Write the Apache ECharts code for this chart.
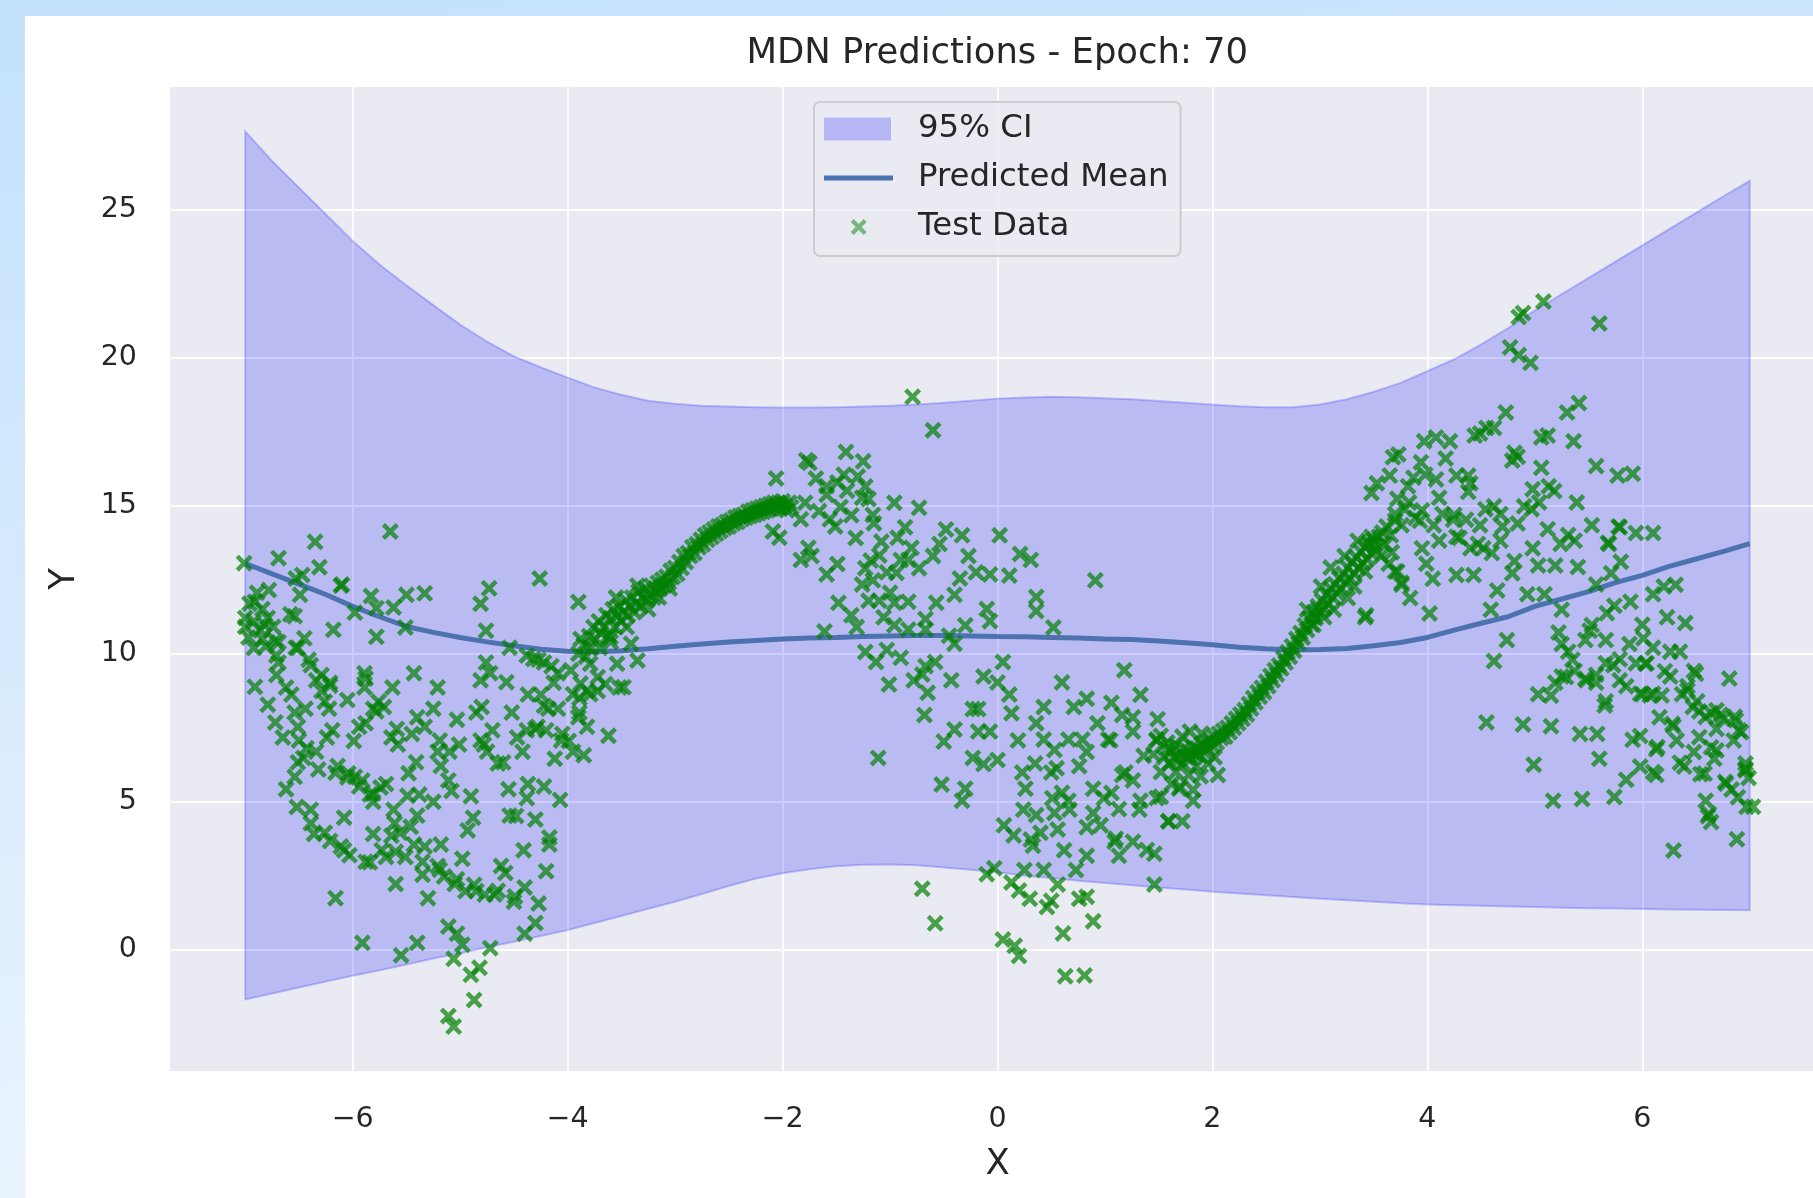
<!DOCTYPE html>
<html>
<head>
<meta charset="utf-8">
<title>MDN Predictions - Epoch: 70</title>
<script src="https://cdn.jsdelivr.net/npm/echarts@6/dist/echarts.min.js"></script>
<style>
  html, body { margin: 0; padding: 0; width: 1813px; height: 1198px; overflow: hidden;
    background: linear-gradient(172deg, #c3e1fc 0%, #d2e8fd 35%, #e4f1fe 70%, #eef6fe 100%); }
  #card { position: absolute; left: 25px; top: 16px; width: 1788px; height: 1182px; background: #ffffff; }
  #chart { width: 100%; height: 100%; }
</style>
</head>
<body>
<div id="card"><div id="chart"></div></div>
<script>
// ---- sample grid for the predicted mean and the 95% interval ----
const sampleX = [-7,-6.75,-6.5,-6.25,-6,-5.75,-5.5,-5.25,-5,-4.75,-4.5,-4.25,-4,-3.75,-3.5,-3.25,-3,-2.75,-2.5,-2.25,-2,-1.75,-1.5,-1.25,-1,-0.75,-0.5,-0.25,0,0.25,0.5,0.75,1,1.25,1.5,1.75,2,2.25,2.5,2.75,3,3.25,3.5,3.75,4,4.25,4.5,4.75,5,5.25,5.5,5.75,6,6.25,6.5,6.75,7];

const ciUpper = [27.65,26.65,25.75,24.85,23.95,23.15,22.45,21.78,21.12,20.55,20.05,19.68,19.33,19.0,18.75,18.55,18.45,18.38,18.35,18.33,18.32,18.32,18.33,18.35,18.38,18.42,18.48,18.55,18.62,18.66,18.68,18.67,18.63,18.6,18.54,18.48,18.42,18.36,18.33,18.33,18.42,18.6,18.85,19.15,19.55,19.95,20.45,21.0,21.6,22.15,22.7,23.25,23.8,24.35,24.9,25.45,25.98];

const ciLower = [-1.68,-1.48,-1.28,-1.08,-0.88,-0.7,-0.5,-0.3,-0.12,0.08,0.27,0.46,0.66,0.9,1.14,1.38,1.62,1.88,2.15,2.4,2.58,2.72,2.82,2.87,2.88,2.85,2.78,2.7,2.62,2.5,2.42,2.33,2.25,2.18,2.1,2.03,1.96,1.9,1.84,1.78,1.72,1.67,1.62,1.57,1.53,1.5,1.48,1.46,1.44,1.42,1.4,1.39,1.37,1.36,1.35,1.34,1.33];

const meanY = [13.05,12.7,12.35,12.0,11.6,11.25,10.92,10.72,10.55,10.4,10.27,10.15,10.08,10.07,10.1,10.17,10.25,10.33,10.4,10.45,10.5,10.53,10.55,10.58,10.6,10.62,10.62,10.6,10.58,10.57,10.55,10.53,10.5,10.48,10.43,10.37,10.3,10.22,10.17,10.13,10.14,10.18,10.27,10.38,10.55,10.8,11.03,11.25,11.6,11.85,12.1,12.4,12.65,12.95,13.2,13.45,13.72];

// ---- test data, grouped by region along X ----
const testLeft = [
[-7.01,13.06],[-6.69,13.23],[-6.35,13.78],[-5.65,14.13],[-6.31,12.92],[-6.47,12.66],[-6.11,12.30],[-6.49,11.99],[-5.50,11.99],[-5.33,12.04],[-4.73,12.21],[-4.81,11.69],[-4.26,12.54],[-3.90,11.75],
[-6.89,12.06],[-6.96,11.69],[-6.84,11.51],[-7.0,11.21],[-6.92,11.09],[-6.79,11.21],[-7.0,10.91],[-6.86,10.79],[-6.74,10.91],[-6.97,10.55],[-6.84,10.49],[-6.72,10.43],[-6.92,10.19],[-6.81,10.25],[-6.71,9.94],
[-6.58,11.33],[-6.54,11.27],[-6.18,10.81],[-5.98,11.39],[-5.78,11.54],[-5.78,10.57],[-5.51,10.89],[-6.45,10.52],[-6.51,10.19],[-6.41,9.80],[-6.69,9.70],[-6.71,9.28],[-6.62,8.86],[-6.57,8.62],[-6.91,8.88],[-6.79,8.28],[-6.72,7.68],[-6.65,7.17],[-6.51,7.53],[-6.54,8.01],[-6.44,8.14],[-6.34,9.10],[-6.29,8.74],[-6.26,8.38],[-6.21,8.92],[-6.22,8.14],[-6.29,9.28],[-6.19,7.41],[-6.24,7.17],[-6.34,6.69],[-6.43,6.81],[-6.51,6.33],[-6.54,5.84],[-6.62,5.42],[-6.52,4.82],[-6.39,4.27],[-6.36,3.91],[-6.21,3.67],[-6.11,3.49],[-6.03,3.19],[-6.08,4.46],[-5.81,3.91],[-5.84,2.95],[-5.69,3.13],[-5.60,3.31],[-5.51,3.13],[-5.43,3.55],[-5.33,3.49],[-5.61,4.27],[-5.46,4.15],[-5.64,3.85],[-5.60,2.22],[-6.16,1.74],[-5.91,0.23],[-5.55,-0.19],[-5.40,0.23],[-5.35,2.53],[-5.30,1.74],[-5.18,3.55],[-5.21,2.83],[-5.15,2.47],[-5.05,2.22],[-4.98,3.07],[-4.95,1.98],[-4.85,1.98],[-4.77,1.86],[-4.68,1.86],[-4.62,2.83],[-4.58,2.59],[-4.50,1.62],[-4.40,2.10],[-4.27,1.56],[-4.20,2.65],[-4.17,3.55],[-4.17,3.79],[-4.30,4.40],[-4.37,5.60],[-4.48,4.52],[-4.55,5.42],[-4.60,6.33],[-4.07,5.06],[-4.90,5.18],[-4.88,4.46],[-4.93,4.03],[-5.08,5.36],[-5.11,5.72],[-5.18,6.21],[-5.21,6.69],[-5.25,5.00],[-5.38,5.24],[-5.48,5.96],[-5.41,6.33],[-5.33,7.53],[-5.45,7.29],[-5.58,6.93],[-5.64,7.17],[-5.74,5.48],[-5.81,5.00],[-5.69,5.60],[-5.91,5.72],[-6.04,5.96],[-6.14,6.21],[-5.98,5.84],[-5.84,5.24],[-5.99,7.05],[-5.94,7.53],[-5.88,7.65],[-5.81,8.14],[-5.76,8.38],[-5.71,8.20],[-5.89,8.86],[-5.88,9.16],[-5.89,9.34],[-5.63,8.86],[-5.43,9.34],[-5.21,8.86],[-5.25,8.14],[-5.01,6.93],[-5.10,6.69],[-4.78,6.93],[-4.70,7.41],[-4.75,6.69],[-4.85,8.01],[-4.80,8.20],[-4.81,9.10],[-4.76,9.70],[-4.72,9.34],[-4.57,9.04],[-4.52,8.01],[-4.47,7.17],[-4.42,6.69],[-4.38,7.41],[-4.28,7.53],[-4.20,7.41],[-4.37,8.62],[-4.25,8.62],[-4.18,8.14],[-4.09,8.14],[-4.05,7.29],[-3.99,7.05],[-3.95,6.69],[-3.85,6.57],[-4.12,6.45],[-3.82,7.53],[-3.62,7.23],[-3.89,8.01],[-3.89,8.50],[-3.82,8.74],[-3.72,8.74],[-4.09,9.34],[-4.15,9.58],[-4.22,9.70],[-4.32,9.82],[-4.38,9.94],
[-5.11,0.78],[-5.03,0.54],[-4.98,0.17],[-5.06,-0.31],[-4.72,0.05],[-4.90,-0.85],[-4.82,-0.61],[-4.87,-1.70],[-5.11,-2.24],[-5.06,-2.60],[-4.30,0.90],[-4.40,0.54],
[-3.35,9.77],[-3.54,9.66],[-3.79,9.66],[-3.97,9.44],[-3.88,8.99],[-3.72,9.21],[-3.48,8.87],[-3.41,10.34],[-3.60,10.56],[-3.65,8.98],[-3.52,8.86],
[-6.50,7.07],[-6.46,6.48],[-6.32,6.09],[-6.16,5.98],[-6.05,5.82],[-5.94,5.51],[-5.81,5.27],[-6.39,4.73],[-6.26,3.95],[-6.08,3.36],[-5.88,2.97],[-5.73,3.36],[-5.56,3.95],[-5.40,4.53],[-5.62,4.73],[-5.49,5.20],[-5.35,2.97],[-5.19,2.70],[-5.03,2.38],[-4.87,2.19],[-4.65,1.99],[-4.49,1.80],[-4.41,3.36],[-4.54,4.53],[-4.38,5.12],[-4.22,5.51],[-4.65,6.29],[-4.81,7.07],[-5.03,7.77],[-5.19,7.07],[-5.40,7.85],[-5.59,7.46],[-5.78,8.05],[-6.05,8.44],[-6.21,9.02],[-6.39,9.61],[-6.53,10.20],[-6.69,10.39],[-6.82,10.98],[-6.91,11.76],[-6.78,12.15],[-6.53,12.54],[-6.10,12.34],[-5.83,11.95],[-5.62,11.56],[-4.76,10.78],[-4.54,10.20],[-4.27,9.80],[-4.13,9.02],[-4.22,8.24],[-4.30,7.46],[-4.06,7.07],[-3.90,7.85],[-3.79,8.63],[-3.95,8.63]
];

const testRiseLeft = [
[-3.90,10.0],[-3.88,10.5],[-3.85,10.3],[-3.83,9.9],[-3.80,10.6],[-3.78,10.2],[-3.76,10.9],[-3.74,10.5],[-3.71,11.1],[-3.69,10.7],[-3.66,10.9],[-3.64,11.3],[-3.62,10.6],[-3.60,11.2],[-3.58,11.5],[-3.56,10.9],[-3.54,11.3],[-3.52,11.6],[-3.50,11.1],[-3.48,11.4],[-3.46,11.8],[-3.44,11.3],[-3.42,11.6],[-3.40,11.9],[-3.38,11.4],[-3.36,11.7],[-3.34,12.1],[-3.32,11.6],[-3.30,11.9],[-3.28,12.2],[-3.26,11.8],[-3.24,12.0],[-3.22,12.3],[-3.20,11.9],[-3.18,12.1],[-3.16,12.4],[-3.14,12.2],[-3.12,12.5],[-3.10,12.3],[-3.08,12.6],[-3.06,12.4],[-3.04,12.8],[-3.02,12.6],[-3.00,12.9],[-2.98,12.7],[-2.96,13.1],[-2.94,12.9],[-2.92,13.3],[-2.90,13.1],[-2.88,13.4],[-2.86,13.3],[-2.84,13.6],[-2.82,13.4],[-2.80,13.7],[-2.78,13.6],[-2.76,13.85],[-2.74,13.7],[-2.72,14.0],[-2.70,13.85],[-2.68,14.1],[-2.66,13.95],[-2.64,14.2],[-2.62,14.05],[-2.60,14.3],[-2.58,14.15],[-2.56,14.35],[-2.54,14.25],[-2.52,14.45],[-2.50,14.3],[-2.48,14.5],[-2.46,14.4],[-2.44,14.6],[-2.42,14.45],[-2.40,14.65],[-2.38,14.55],[-2.36,14.7],[-2.34,14.6],[-2.32,14.8],[-2.30,14.65],[-2.28,14.85],[-2.26,14.7],[-2.24,14.9],[-2.22,14.75],[-2.20,14.95],[-2.18,14.8],[-2.16,15.0],[-2.14,14.85],[-2.12,15.05],[-2.10,14.9],[-2.08,15.1],[-2.06,14.95],[-2.04,15.1],[-2.02,14.9],[-2.00,15.15],[-1.98,15.0],[-1.96,14.85],[-1.94,15.1],[-1.92,14.95],
[-3.70,10.2],[-3.55,11.9],[-3.45,10.9],[-3.35,12.3],[-3.25,11.5],[-3.60,10.4],[-3.15,11.9],[-3.05,12.2]
];

const testMiddle = [
[-0.79,18.68],[-0.60,17.55],
[-2.06,15.92],[-1.78,16.54],[-1.69,15.92],[-1.41,16.82],[-1.25,16.50],[-1.30,15.99],[-1.49,15.79],[-1.59,15.37],[-1.40,15.51],[-1.23,15.65],[-1.20,15.23],[-1.46,14.96],[-1.66,14.82],[-1.79,15.10],[-1.83,14.54],[-1.56,14.54],[-1.36,14.68],[-2.03,13.92],[-2.09,14.13],[-1.76,13.58],[-1.83,13.17],[-1.73,13.30],[-1.59,12.68],[-1.49,13.03],[-1.48,11.72],[-1.36,11.30],[-1.61,10.75],[-1.15,14.41],[-1.08,13.79],[-0.96,15.10],[-0.73,14.93],[-0.93,13.92],[-0.86,14.27],[-0.80,13.58],[-0.90,13.17],[-0.83,13.17],[-0.73,12.89],[-1.23,12.89],[-1.26,12.34],[-1.16,12.48],[-1.03,12.75],[-1.00,12.06],[-1.10,11.79],[-1.20,11.79],[-0.96,11.72],[-1.06,11.23],[-0.96,10.96],[-0.83,10.82],[-0.67,10.82],[-0.60,13.30],[-0.48,14.20],[-0.33,14.00],[-0.27,13.30],[-0.20,12.75],[-0.07,12.68],[0.02,14.00],[0.21,13.37],[0.31,13.17],[0.11,12.64],[-0.40,11.99],[-0.57,11.72],[-0.10,11.51],[-0.07,11.10],[-0.30,10.96],[-0.40,10.34],[-0.45,10.61],[0.36,11.92],[0.36,11.44],[0.52,10.89],[0.91,12.48],[1.18,9.44],[-1.18,13.15],[-1.31,10.90],
[-1.75,16.45],[-1.59,15.66],[-1.43,16.05],[-1.26,15.27],[-1.16,14.69],[-1.51,14.30],[-1.32,13.91],[-1.10,13.32],[-0.94,12.73],[-0.83,11.76],[-0.67,11.17],[-0.54,13.71],[-0.35,12.54],
[-1.23,10.06],[-1.13,9.72],[-1.03,10.13],[-0.90,9.86],[-1.01,8.96],[-0.78,9.10],[-0.67,9.58],[-0.58,9.72],[-0.70,9.30],[-0.65,8.68],[-0.43,9.10],[-0.68,7.93],[-1.11,6.48],[-0.13,9.23],[0.05,9.72],[0.00,9.03],[0.11,8.62],[0.13,7.99],[-0.23,8.13],[-0.18,8.13],[-0.40,7.44],[-0.50,7.03],[-0.18,7.37],[-0.07,7.37],[-0.52,5.58],[-0.30,5.44],[-0.33,5.03],[-0.23,6.48],[-0.13,6.27],[0.00,6.41],[0.23,5.99],[0.26,5.44],[0.43,8.20],[0.36,7.65],[0.43,7.10],[0.53,6.75],[0.50,5.99],[0.60,9.03],[0.71,8.20],[0.83,8.48],[1.06,8.34],[1.33,8.61],[1.16,7.93],[0.93,7.65],[1.03,7.10],[0.79,7.10],[0.66,7.10],[1.26,7.37],[1.49,7.79],[1.52,7.23],[1.79,7.37],[1.59,6.82],[1.36,6.55],[1.19,5.99],[1.06,5.30],[0.89,5.44],[0.60,5.30],[0.66,5.03],[0.55,6.13],[0.76,6.20],[0.36,4.55],[0.53,4.62],[0.56,4.06],[0.06,4.20],[0.15,3.86],[0.31,3.72],[0.33,3.51],[0.89,4.62],[0.96,4.20],[1.09,3.65],[1.13,3.17],[1.26,3.65],[1.39,3.37],[1.46,3.24],[1.33,5.03],[1.26,5.72],[1.52,5.17],[1.59,4.34],[1.72,4.34],[1.69,5.44],[1.82,5.03],[1.89,5.86],[1.13,4.75],[0.83,3.17],[0.73,2.69],[0.43,2.69],[0.25,2.69],[-0.03,2.75],[-0.10,2.55],[0.13,2.27],[0.20,2.00],[0.30,1.72],[0.56,2.20],[0.46,1.44],[0.50,1.65],[0.76,1.72],[0.83,1.79],[1.46,2.20],[-0.70,2.06],[-0.58,0.89],[0.05,0.34],[0.16,0.13],[0.20,-0.21],[0.61,0.55],[0.89,0.96],[0.63,-0.90],[0.81,-0.87],
[0.19,7.07],[0.35,6.29],[0.51,5.12],[0.67,4.73],[0.83,4.14],[0.99,5.12],[1.16,5.90],[1.32,4.73],[1.48,5.12],[1.59,4.34],[1.10,3.75],[0.62,3.36],[0.40,3.95],[0.24,4.73],[0.83,6.68],[1.05,7.07],[1.26,7.85],[1.48,7.07]
];

const testRiseRight = [
[1.60,6.3],[1.62,6.7],[1.64,6.5],[1.66,6.9],[1.68,6.4],[1.70,6.6],[1.72,6.3],[1.74,6.8],[1.76,6.5],[1.78,6.7],[1.80,6.45],[1.82,6.85],[1.84,6.6],[1.86,6.8],[1.88,6.55],[1.90,6.95],[1.92,6.7],[1.94,7.0],[1.96,6.8],[1.98,7.1],[2.00,6.9],[2.02,7.2],[2.04,7.0],[2.06,7.3],[2.08,7.15],[2.10,7.4],[2.12,7.2],[2.14,7.5],[2.16,7.35],[2.18,7.65],[2.20,7.5],[2.22,7.8],[2.24,7.65],[2.26,7.95],[2.28,7.8],[2.30,8.1],[2.32,7.95],[2.34,8.3],[2.36,8.15],[2.38,8.5],[2.40,8.35],[2.42,8.7],[2.44,8.55],[2.46,8.85],[2.48,8.7],[2.50,9.05],[2.52,8.9],[2.54,9.25],[2.56,9.1],[2.58,9.45],[2.60,9.3],[2.62,9.6],[2.64,9.5],[2.66,9.85],[2.68,9.7],[2.70,10.05],[2.72,9.9],[2.74,10.25],[2.76,10.1],[2.78,10.5],[2.80,10.35],[2.82,10.7],[2.84,10.55],[2.86,10.95],[2.88,10.8],[2.90,11.2],[2.92,11.0],[2.94,11.4],[2.96,11.2],[2.98,11.6],[3.00,11.4],[3.02,11.8],[3.04,11.55],[3.06,12.0],[3.08,11.7],[3.10,12.2],[3.12,11.9],[3.14,12.35],[3.16,12.05],[3.18,12.55],[3.20,12.2],[3.22,12.7],[3.24,12.4],[3.26,12.9],[3.28,12.55],[3.30,13.1],[3.32,12.7],[3.34,13.25],[3.36,12.9],[3.38,13.45],[3.40,13.05],[3.42,13.6],[3.44,13.2],[3.46,13.75],[3.48,13.4],[3.50,13.85],[3.52,13.5],[3.55,13.95],[3.58,14.1],[3.62,14.3],[3.66,14.0],[3.70,14.5],
[1.45,6.6],[1.52,6.0],[1.58,7.0],[1.66,6.0],[1.72,7.2],[1.78,5.9],[1.85,6.2],[1.90,7.3],[1.96,6.3],[2.02,6.5],[2.05,5.9],[1.62,5.6],[1.55,6.5],[1.48,7.1],[1.70,5.5],[1.82,5.4],
[3.10,12.91],[3.23,13.30],[3.35,13.82],[3.48,13.95],[3.61,13.69],[3.67,13.43],[3.76,12.40],[3.01,12.27],[2.88,11.49],[3.42,12.78],[3.32,12.27],[3.26,11.88],[3.13,11.49],[3.04,11.23],[2.94,10.97],[3.42,11.23],[3.64,13.04],[3.70,12.78],[3.57,13.30],[3.51,13.69],[3.45,13.69]
];

const testRight = [
[5.08,21.90],[4.89,21.51],[4.85,21.38],[5.60,21.16],[4.77,20.35],[4.85,20.09],[4.96,19.83],[5.41,18.47],[5.30,18.15],[4.73,18.15],[4.49,17.44],[4.44,17.37],[4.55,17.63],[4.62,17.63],[3.97,17.18],[4.08,17.31],[4.21,17.18],[3.73,16.73],[3.94,16.47],[4.17,16.60],[3.87,15.95],[4.08,15.89],[4.27,16.02],[4.40,15.76],[4.38,16.02],[3.53,15.76],[3.65,16.02],[3.48,15.43],[3.72,15.24],[3.83,15.11],[3.95,14.85],[3.70,14.72],[3.76,14.34],[3.89,14.59],[4.06,14.34],[4.14,14.72],[4.24,14.53],[4.36,14.53],[4.49,14.34],[4.62,14.98],[4.68,14.72],[4.84,14.40],[4.90,14.98],[4.98,15.56],[5.04,15.11],[5.18,15.50],[4.81,16.79],[4.84,16.66],[4.79,16.53],[5.06,17.31],[5.12,17.37],[5.36,17.18],[5.06,16.28],[5.57,16.34],[5.77,16.02],[5.91,16.08],[5.39,15.11],[5.12,14.21],[5.31,14.01],[5.37,13.82],[5.53,14.34],[5.68,13.75],[5.79,14.27],[5.94,14.08],[6.10,14.08],[5.80,13.11],[5.71,12.72],[4.98,13.56],[5.03,12.98],[5.19,12.98],[4.79,12.72],[4.65,12.14],[4.93,12.01],[5.09,12.01],[4.59,11.49],[4.02,11.36],[3.84,11.88],[3.76,12.33],[3.72,12.78],[3.95,13.56],[3.99,13.04],[4.05,12.53],[4.27,12.66],[4.43,12.66],[4.11,13.82],[4.27,13.95],[4.40,13.56],[4.52,13.56],[4.68,13.82],[3.43,11.30],[4.74,10.46],[4.62,9.75],[5.74,11.62],[6.10,12.01],[6.20,12.27],[6.31,12.33],[6.23,11.23],[6.40,11.04],[5.25,11.49],[5.22,10.72],[5.25,10.33],[5.31,10.07],[5.53,10.97],[5.47,10.46],[5.66,10.46],[5.88,10.33],[6.01,10.52],[6.26,10.07],[6.35,10.07],[5.15,8.58],[5.25,9.23],[5.37,9.42],[5.47,9.16],[5.57,9.29],[5.66,9.68],[5.79,9.81],[5.94,9.68],[6.04,9.68],[5.79,9.10],[5.85,8.90],[5.98,8.65],[6.10,8.65],[5.66,8.39],[6.26,9.23],[6.48,9.42],[6.42,8.90],[6.51,8.39],[6.81,9.16],[6.64,8.00],[6.73,7.94],[6.86,7.87],[6.92,7.35],[6.29,7.55],[5.98,7.22],[5.91,7.09],[6.13,6.77],[6.10,6.00],[5.98,6.19],[5.85,5.74],[6.35,6.32],[6.39,6.19],[6.54,5.93],[6.64,6.84],[6.67,6.45],[6.77,5.67],[6.83,5.41],[6.96,6.06],[6.99,5.80],[6.97,4.83],[7.03,4.83],[6.89,5.15],[6.59,5.03],[6.61,4.51],[6.64,4.31],[6.88,3.73],[6.29,3.35],[4.55,7.68],[4.89,7.61],[5.15,7.55],[5.42,7.29],[5.58,7.29],[4.99,6.25],[5.60,6.45],[5.17,5.03],[5.44,5.09],[5.74,5.16],
[5.65,8.25],[6.14,6.85],[6.13,5.90],[6.58,5.95],[6.62,4.59],[6.69,6.73],[6.78,5.61],[6.96,6.11],[6.53,7.18],[6.59,7.86],[6.75,7.80],[6.87,7.75],[6.90,7.41],[6.28,7.63],[6.50,9.32],[6.03,9.66],[5.48,9.10],[5.29,9.21],[6.07,8.59],[6.18,8.59],[6.42,8.76],[6.47,8.20],[6.69,8.09],
[3.68,16.64],[3.82,15.66],[3.98,16.05],[4.11,15.27],[4.25,14.69],[4.38,15.47],[4.54,14.88],[4.70,14.30],[3.93,14.49],[3.79,14.88],[4.30,13.91],[4.47,13.71],[4.60,13.40],[4.81,13.13],[4.97,14.88],[5.13,15.66],[5.24,13.71],[5.40,12.93],[5.57,12.34],[5.69,13.71],[5.78,14.30],[5.89,11.76],[6.00,10.98],[6.10,10.20],[6.21,9.41],[6.37,8.63],[6.53,8.05],[6.69,7.46],[6.85,7.07],[6.96,6.29],[6.48,6.68],[6.32,7.07],[6.16,7.85],[6.00,8.63],[5.73,9.61],[5.57,9.02],[5.35,9.80],[5.19,9.02],[5.03,8.63],[5.51,10.78],[5.67,11.37]
];

// ---- axis tick values ----
const xTicks = [-6, -4, -2, 0, 2, 4, 6];
const yTicks = [0, 5, 10, 15, 20, 25];

const testData = [].concat(testLeft, testRiseLeft, testMiddle, testRiseRight, testRight);
const meanData = sampleX.map((x, i) => [x, meanY[i]]);

// 'x' marker drawn as a filled cross
const CROSS = 'path://M0,3 L3,0 L8,5 L13,0 L16,3 L11,8 L16,13 L13,16 L8,11 L3,16 L0,13 L5,8 Z';

const FONT = 'DejaVu Sans';
const INK = '#262626';
const minus = v => (v < 0 ? '\u2212' + Math.abs(v) : String(v));

const chart = echarts.init(document.getElementById('chart'), null, { renderer: 'canvas' });

chart.setOption({
  animation: false,
  backgroundColor: '#ffffff',
  title: {
    text: 'MDN Predictions - Epoch: 70',
    left: 972.3, top: 38, padding: 0,
    textAlign: 'center', textVerticalAlign: 'middle',
    textStyle: { fontFamily: FONT, fontSize: 35.4, fontWeight: 'normal', color: INK }
  },
  legend: {
    orient: 'vertical',
    left: 789, top: 86,
    padding: [10, 12, 12, 10],
    itemWidth: 89, itemHeight: 23, itemGap: 15,
    backgroundColor: 'rgba(234,234,242,0.8)',
    borderColor: '#cccccc', borderWidth: 2, borderRadius: 6,
    selectedMode: false,
    textStyle: { fontFamily: FONT, fontSize: 32.4, color: INK, lineHeight: 34 },
    data: [
      { name: '95% CI', icon: 'path://M0,0 H67 V23 H0 Z M89,0 L89,0',
        itemStyle: { color: 'rgba(0,0,255,0.22)' } },
      { name: 'Predicted Mean', icon: 'path://M0,9 H69 V14 H0 Z M0,0 L0,0 M89,23 L89,23',
        itemStyle: { color: '#4C72B0' } },
      { name: 'Test Data',
        icon: 'path://M26.7,6.5 L29.7,3.5 L34.7,8.5 L39.7,3.5 L42.7,6.5 L37.7,11.5 L42.7,16.5 L39.7,19.5 L34.7,14.5 L29.7,19.5 L26.7,16.5 L31.7,11.5 Z M0,0 L0,0 M89,23 L89,23',
        itemStyle: { color: 'rgba(0,128,0,0.7)' } }
    ]
  },
  grid: {
    left: 145, top: 71, width: 1655, height: 984,
    show: true, backgroundColor: '#EAEAF2', borderWidth: 0,
    containLabel: false, outerBoundsMode: 'none'
  },
  xAxis: {
    type: 'value', min: -7.7, max: 7.7,
    axisLine: { show: false },
    axisTick: { show: false, customValues: xTicks },
    axisLabel: { customValues: xTicks, formatter: minus, margin: 34,
      fontFamily: FONT, fontSize: 28.5, color: INK },
    splitLine: { show: true, lineStyle: { color: '#ffffff', width: 1.8 } },
    name: 'X', nameLocation: 'middle', nameGap: 76,
    nameTextStyle: { fontFamily: FONT, fontSize: 35.4, color: INK }
  },
  yAxis: {
    type: 'value', min: -4.1, max: 29.15,
    axisLine: { show: false },
    axisTick: { show: false, customValues: yTicks },
    axisLabel: { customValues: yTicks, formatter: minus, margin: 33,
      fontFamily: FONT, fontSize: 28.5, color: INK },
    splitLine: { show: true, lineStyle: { color: '#ffffff', width: 1.8 } },
    name: 'Y', nameLocation: 'middle', nameGap: 88, nameRotate: 90,
    nameTextStyle: { fontFamily: FONT, fontSize: 35.4, color: INK }
  },
  series: [
    {
      // shaded 95% interval between the lower and upper bounds
      type: 'custom', name: '95% CI', z: 1, silent: true,
      data: [[0, 10]],
      renderItem: function (params, api) {
        const pts = [];
        for (let i = 0; i < sampleX.length; i++) pts.push(api.coord([sampleX[i], ciUpper[i]]));
        for (let i = sampleX.length - 1; i >= 0; i--) pts.push(api.coord([sampleX[i], ciLower[i]]));
        return {
          type: 'polygon',
          shape: { points: pts },
          style: { fill: 'rgba(0,0,255,0.2)', stroke: 'rgba(0,0,255,0.2)', lineWidth: 2 }
        };
      }
    },
    {
      type: 'line', name: 'Predicted Mean', z: 2, silent: true,
      data: meanData, showSymbol: false, symbol: 'none',
      color: '#4C72B0',
      lineStyle: { color: '#4C72B0', width: 5 }
    },
    {
      type: 'scatter', name: 'Test Data', z: 3, silent: true,
      data: testData, symbol: CROSS, symbolSize: 17,
      itemStyle: { color: '#008000', opacity: 0.7 }
    }
  ]
});
</script>
</body>
</html>
